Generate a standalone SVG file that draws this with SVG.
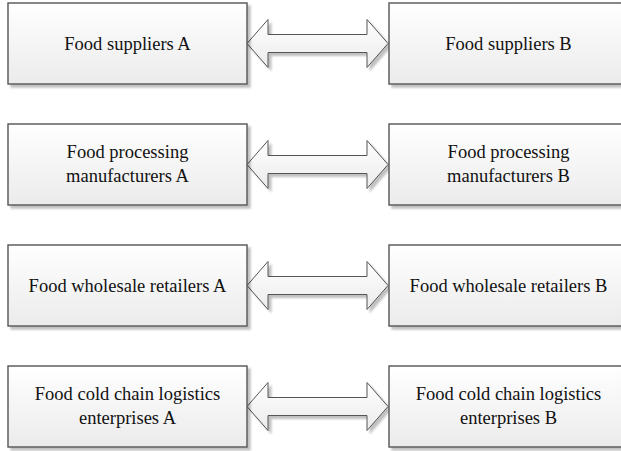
<svg xmlns="http://www.w3.org/2000/svg" width="621" height="451" viewBox="0 0 621 451">
<defs>
<linearGradient id="g" x1="0" y1="0" x2="0" y2="1">
<stop offset="0" stop-color="#ffffff"/>
<stop offset="1" stop-color="#ebebeb"/>
</linearGradient>
<filter id="sh" x="-10%" y="-10%" width="120%" height="130%">
<feGaussianBlur in="SourceAlpha" stdDeviation="1.2"/>
<feOffset dx="2.5" dy="3" result="b"/>
<feComponentTransfer><feFuncA type="linear" slope="0.25"/></feComponentTransfer>
<feMerge><feMergeNode/><feMergeNode in="SourceGraphic"/></feMerge>
</filter>
</defs>
<style>
.box{fill:url(#g);stroke:#555555;stroke-width:1.4;filter:url(#sh)}
.arr{fill:url(#g);stroke:#555555;stroke-width:1;filter:url(#sh)}
text{font-family:"Liberation Serif","Times New Roman",serif;font-size:18.5px;fill:#111111;text-anchor:middle}
</style>
<rect width="621" height="451" fill="#ffffff"/>
<g id="connectors">
<path class="arr" d="M247,43.5 L268,19.5 L268,34.5 L367,34.5 L367,19.5 L388,43.5 L367,67.5 L367,52.5 L268,52.5 L268,67.5 Z"/>
<path class="arr" d="M247,164.5 L268,140.5 L268,155.5 L367,155.5 L367,140.5 L388,164.5 L367,188.5 L367,173.5 L268,173.5 L268,188.5 Z"/>
<path class="arr" d="M247,285.5 L268,261.5 L268,276.5 L367,276.5 L367,261.5 L388,285.5 L367,309.5 L367,294.5 L268,294.5 L268,309.5 Z"/>
<path class="arr" d="M247,406.5 L268,382.5 L268,397.5 L367,397.5 L367,382.5 L388,406.5 L367,430.5 L367,415.5 L268,415.5 L268,430.5 Z"/>
</g>
<g id="supA"><rect class="box" x="8" y="3" width="239" height="81"/><text x="127.5" y="50" font-family="Liberation Serif">Food suppliers A</text></g>
<g id="supB"><rect class="box" x="389" y="3" width="239" height="81"/><text x="508.5" y="50" font-family="Liberation Serif">Food suppliers B</text></g>
<g id="procA"><rect class="box" x="8" y="124" width="239" height="81"/><text x="127.5" y="158" font-family="Liberation Serif">Food processing</text><text x="127.5" y="182" font-family="Liberation Serif">manufacturers A</text></g>
<g id="procB"><rect class="box" x="389" y="124" width="239" height="81"/><text x="508.5" y="158" font-family="Liberation Serif">Food processing</text><text x="508.5" y="182" font-family="Liberation Serif">manufacturers B</text></g>
<g id="whA"><rect class="box" x="8" y="245" width="239" height="81"/><text x="127.5" y="292" font-family="Liberation Serif">Food wholesale retailers A</text></g>
<g id="whB"><rect class="box" x="389" y="245" width="239" height="81"/><text x="508.5" y="292" font-family="Liberation Serif">Food wholesale retailers B</text></g>
<g id="coldA"><rect class="box" x="8" y="366" width="239" height="81"/><text x="127.5" y="400" font-family="Liberation Serif">Food cold chain logistics</text><text x="127.5" y="424" font-family="Liberation Serif">enterprises A</text></g>
<g id="coldB"><rect class="box" x="389" y="366" width="239" height="81"/><text x="508.5" y="400" font-family="Liberation Serif">Food cold chain logistics</text><text x="508.5" y="424" font-family="Liberation Serif">enterprises B</text></g>
</svg>
